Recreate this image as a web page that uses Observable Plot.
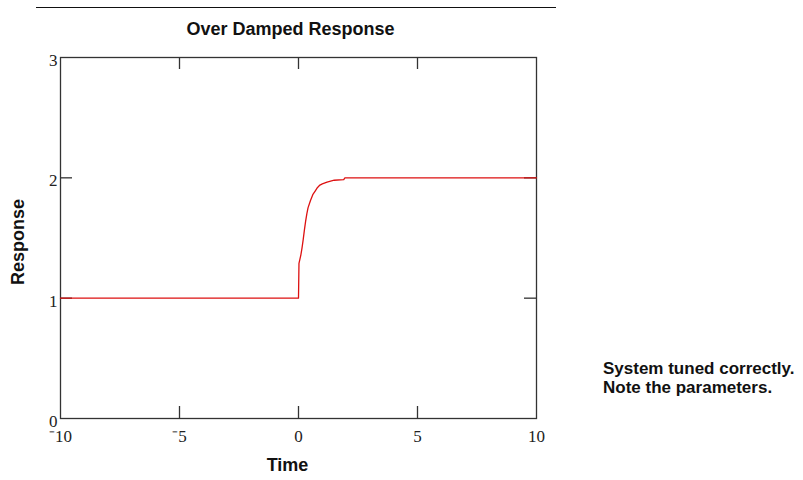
<!DOCTYPE html>
<html>
<head>
<meta charset="utf-8">
<script src="https://cdn.jsdelivr.net/npm/d3@7"></script>
<script src="https://cdn.jsdelivr.net/npm/@observablehq/plot@0.6"></script>
<style>
  html, body { margin: 0; padding: 0; background: #fff; }
  #wrap { position: relative; width: 803px; height: 480px; overflow: hidden; }
  #topline { position: absolute; left: 36px; top: 7px; width: 520px; height: 0; border-top: 1px solid #111; }
  #note { position: absolute; left: 603px; top: 359px; font: bold 17px/19px 'Liberation Sans', Arial, sans-serif; color: #111; white-space: nowrap; }
</style>
</head>
<body>
<div id="wrap"><div id="topline"></div><div id="chart"></div><div id="note"></div></div>
<script>
// ---- data ----
const title = "Over Damped Response";
const xLabel = "Time";
const yLabel = "Response";
const noteLines = ["System tuned correctly.", "Note the parameters."];
const xTicks = [-10, -5, 0, 5, 10];
const yTicks = [0, 1, 2, 3];
const xInnerTicks = [-5, 0, 5];
const yInnerTicks = [1, 2];
const time     = [-10, 0, 0.02, 0.1, 0.15, 0.2, 0.25, 0.3, 0.35, 0.4, 0.5, 0.6, 0.7, 0.8, 0.9, 1.0, 1.2, 1.5, 1.9, 1.95, 10];
const response = [1, 1, 1.29, 1.36, 1.42, 1.49, 1.57, 1.64, 1.70, 1.75, 1.81, 1.86, 1.89, 1.92, 1.94, 1.95, 1.965, 1.98, 1.985, 2.0, 2.0];

const series = time.map((t, i) => ({t, r: response[i]}));

// ---- layout ----
const W = 803, H = 480;
const mTop = 57, mLeft = 60, mRight = 267, mBottom = 62;
const tickPx = 12;
const xDomain = [-10, 10], yDomain = [0, 3];
const tickLenX = tickPx * (xDomain[1] - xDomain[0]) / (W - mLeft - mRight);
const tickLenY = tickPx * (yDomain[1] - yDomain[0]) / (H - mTop - mBottom);

const fmtX = d => d < 0 ? "\u207B" + Math.abs(d) : String(d);
const sans = "'Liberation Sans', Arial, sans-serif";
const serif = "'Liberation Serif', 'Times New Roman', serif";

const chart = Plot.plot({
  width: W, height: H,
  marginTop: mTop, marginLeft: mLeft, marginRight: mRight, marginBottom: mBottom,
  x: {domain: xDomain, axis: null},
  y: {domain: yDomain, axis: null},
  style: {fontFamily: serif, fontSize: "16px", color: "#111", background: "#fff", overflow: "visible"},
  marks: [
    // inner ticks (bottom / top)
    Plot.ruleX(xInnerTicks, {x: d => d, y1: yDomain[0], y2: yDomain[0] + tickLenY, stroke: "#333", strokeWidth: 1.3}),
    Plot.ruleX(xInnerTicks, {x: d => d, y1: yDomain[1], y2: yDomain[1] - tickLenY, stroke: "#333", strokeWidth: 1.3}),
    // inner ticks (left / right)
    Plot.ruleY(yInnerTicks, {y: d => d, x1: xDomain[0], x2: xDomain[0] + tickLenX, stroke: "#333", strokeWidth: 1.3}),
    Plot.ruleY(yInnerTicks, {y: d => d, x1: xDomain[1], x2: xDomain[1] - tickLenX, stroke: "#333", strokeWidth: 1.3}),
    Plot.frame({stroke: "#333", strokeWidth: 1.3}),
    Plot.line(series, {x: "t", y: "r", stroke: "#dd1111", strokeWidth: 1.3}),
    // tick labels
    Plot.text(xTicks, {x: d => d, y: yDomain[0], text: fmtX, dy: 18, lineAnchor: "middle", fontFamily: serif, fontSize: 17, fill: "#222"}),
    Plot.text(yTicks, {x: xDomain[0], y: d => d, text: d => String(d), textAnchor: "end", dx: -3, dy: 3, lineAnchor: "middle", fontFamily: serif, fontSize: 17, fill: "#222"}),
    // titles
    Plot.text([title], {frameAnchor: "top", text: d => d, dx: -8, dy: -28, textAnchor: "middle", lineAnchor: "middle", fontFamily: sans, fontWeight: "bold", fontSize: 18, fill: "#111"}),
    Plot.text([xLabel], {frameAnchor: "bottom", text: d => d, dx: -11, dy: 47, textAnchor: "middle", lineAnchor: "middle", fontFamily: sans, fontWeight: "bold", fontSize: 18, fill: "#111"}),
    Plot.text([yLabel], {frameAnchor: "left", text: d => d, dx: -42, dy: 4, rotate: -90, textAnchor: "middle", lineAnchor: "middle", fontFamily: sans, fontWeight: "bold", fontSize: 18, fill: "#111"})
  ]
});
document.getElementById("chart").appendChild(chart);

// note text beside the chart
d3.select("#note").selectAll("div").data(noteLines).join("div").text(d => d);
</script>
</body>
</html>
